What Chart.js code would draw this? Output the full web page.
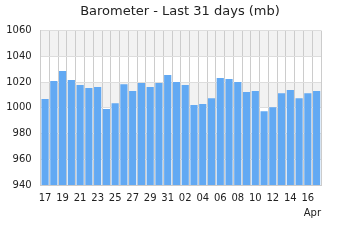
<!DOCTYPE html>
<html>
<head>
<meta charset="utf-8">
<script src="https://cdn.jsdelivr.net/npm/chart.js@4"></script>
<style>
html,body{margin:0;padding:0;background:#fff;}
#c{display:block;}
</style>
</head>
<body>
<canvas id="c" width="360" height="240"></canvas>
<script>
const days = ["17","18","19","20","21","22","23","24","25","26","27","28","29","30","31",
  "01","02","03","04","05","06","07","08","09","10","11","12","13","14","15","16","17"];
const pressure = [1006.8,1020.8,1028.6,1021.6,1017.7,1015.3,1016.1,999.0,1003.6,1018.4,1013.0,
  1019.2,1016.1,1019.2,1025.4,1020.0,1017.7,1002.1,1002.9,1007.5,1023.1,1022.3,
  1020.0,1012.2,1013.0,997.4,1000.5,1011.4,1013.8,1007.5,1011.4,1013.0];
const yTicks = [940,960,980,1000,1020,1040,1060];
const monthLabel = "Apr";
const chartTitle = "Barometer - Last 31 days (mb)";

const bandPlugin = {
  id: 'bands',
  beforeDraw(chart) {
    const {ctx, chartArea, scales} = chart;
    const y = scales.y;
    ctx.save();
    ctx.fillStyle = '#f2f2f2';
    for (let i = 0; i < yTicks.length - 1; i++) {
      if (i % 2 === 1) {
        const top = y.getPixelForValue(yTicks[i + 1]);
        const bot = y.getPixelForValue(yTicks[i]);
        ctx.fillRect(chartArea.left, top, chartArea.right - chartArea.left, bot - top);
      }
    }
    ctx.restore();
  }
};

Chart.defaults.font.family = "'DejaVu Sans', sans-serif";
Chart.defaults.color = '#222';

new Chart(document.getElementById('c'), {
  type: 'bar',
  data: {
    labels: days,
    datasets: [{
      data: pressure,
      backgroundColor: '#62a9f3',
      borderWidth: 0,
      barPercentage: 0.82,
      categoryPercentage: 1.0
    }]
  },
  options: {
    responsive: false,
    animation: false,
    layout: { padding: { left: 6, right: 6, top: 0, bottom: 14 } },
    plugins: {
      legend: { display: false },
      tooltip: { enabled: false },
      title: {
        display: true,
        text: chartTitle,
        font: { size: 13, weight: 'normal' },
        color: '#222',
        padding: { top: 4, bottom: 11 }
      }
    },
    scales: {
      x: {
        grid: { color: '#cccccc', lineWidth: 1, drawTicks: false, offset: true },
        border: { color: '#cccccc' },
        afterFit: (axis) => { axis.paddingLeft = 0; axis.paddingRight = 0; axis.height = 41; },
        ticks: {
          autoSkip: false,
          maxRotation: 0,
          padding: 7,
          font: { size: 10 },
          color: '#222',
          callback: function(v, i) { return i % 2 === 0 ? days[i] : ''; }
        },
        title: {
          display: true,
          text: monthLabel,
          align: 'end',
          font: { size: 10 },
          color: '#222',
          padding: { top: 2, bottom: 7 }
        }
      },
      y: {
        min: 940,
        max: 1060,
        grid: { color: '#dddddd', lineWidth: 1, drawTicks: false },
        border: { color: '#cccccc' },
        afterBuildTicks: (axis) => { axis.ticks = yTicks.map(v => ({ value: v })); },
        afterFit: (axis) => { axis.width = 34.7; },
        ticks: {
          padding: 9,
          font: { size: 10 },
          color: '#222',
          callback: (v) => String(v)
        }
      },
      yRight: {
        type: 'linear',
        position: 'right',
        display: true,
        grid: { drawOnChartArea: false, drawTicks: false },
        border: { display: false },
        ticks: { display: false },
        afterFit: (axis) => { axis.width = 33; }
      }
    }
  },
  plugins: [bandPlugin]
});
</script>
</body>
</html>
